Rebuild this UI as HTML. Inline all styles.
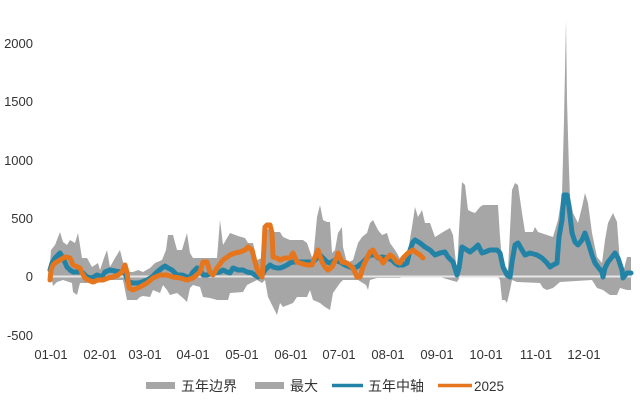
<!DOCTYPE html>
<html><head><meta charset="utf-8">
<style>
html,body{margin:0;padding:0;background:#fff;}
svg{display:block;}
text{font-family:"Liberation Sans","Noto Sans CJK SC",sans-serif;fill:#333;}
</style></head>
<body>
<svg width="640" height="402" viewBox="0 0 640 402" xmlns="http://www.w3.org/2000/svg">
<rect width="640" height="402" fill="#fff"/>
<!-- y labels -->
<g font-size="13" text-anchor="end">
<text x="33" y="48">2000</text>
<text x="33" y="106">1500</text>
<text x="33" y="165">1000</text>
<text x="33" y="223">500</text>
<text x="33" y="281">0</text>
<text x="33" y="340">-500</text>
</g>
<!-- gray area -->
<polygon fill="#a6a6a6" points="49,276 51,250 55,245 60,232 63,242 67,245 70,240 75,243 78,233 82,258 87,258 92,267 98,263 100,270 104,258 107,250 110,267 115,258 120,250 123,262 128,272 133,272 138,270 143,272 150,268 155,263 162,260 166,250 168,235 173,235 177,250 182,250 187,233 190,253 193,258 200,258 210,258 217,258 220,220 223,245 230,233 238,236 245,238 248,243 253,243 257,260 262,258 265,225 270,232 280,232 283,237 290,240 303,240 307,243 313,260 317,217 320,205 323,220 327,222 330,222 332,253 335,250 338,233 342,227 343,247 347,263 353,260 358,243 362,237 367,233 370,223 373,220 378,230 382,235 387,233 390,243 397,253 402,263 407,257 412,227 415,207 418,217 422,210 425,223 430,223 435,237 443,232 450,228 453,235 457,273 459,230 462,182 465,185 468,210 472,212 475,213 480,207 483,205 498,205 500,237 503,270 508,270 512,190 515,183 518,185 522,213 525,232 533,232 535,227 538,232 547,235 553,237 558,220 562,195 564,120 566,20 567,100 569,170 570,197 573,213 578,223 582,207 585,193 588,203 592,233 597,257 602,263 605,240 608,223 613,213 617,222 620,263 623,273 627,257 631,257 631,290 627,290 620,288 617,295 610,295 607,293 603,290 597,288 592,280 560,282 553,288 547,290 543,288 540,283 517,282 512,280 510,290 507,303 505,300 502,300 500,280 498,277 460,277 457,282 450,280 440,277 402,277 400,278 377,278 370,280 368,290 366,285 358,280 343,280 340,283 333,293 330,310 325,307 320,303 313,300 310,290 307,297 297,297 293,303 283,307 280,303 277,315 272,305 268,297 265,280 262,283 257,280 247,285 243,292 230,293 228,300 217,300 210,298 203,297 200,287 193,285 190,288 187,302 183,298 177,293 170,295 167,290 163,285 160,293 153,290 150,297 143,296 140,297 137,300 127,300 123,280 90,280 87,283 80,283 77,295 73,292 72,283 63,280 57,282 53,286 51,276"/>
<!-- zero line -->
<line x1="48" y1="276.5" x2="632" y2="276.5" stroke="#e6e6e6" stroke-width="2"/>
<!-- blue -->
<polyline fill="none" stroke="#2283a6" stroke-width="5" stroke-linejoin="round" stroke-linecap="round" points="50,270 52,263 55,258 60,253 63,258 67,267 70,270 73,272 82,272 87,277 92,278 97,275 102,277 105,272 110,270 120,272 125,273 128,282 133,283 138,283 142,282 147,280 152,277 157,272 162,268 165,266 168,268 172,270 177,275 182,275 187,277 190,277 193,272 197,268 200,270 203,275 207,275 213,273 220,272 223,270 227,272 230,273 233,268 238,270 243,270 247,272 252,273 255,275 258,277 262,275 265,270 270,265 273,267 277,268 280,268 283,267 287,265 290,263 293,262 300,262 313,262 317,258 320,255 323,258 327,262 330,263 335,260 340,262 345,265 350,267 353,268 357,267 362,263 367,258 370,255 375,255 378,258 382,257 387,258 392,260 395,263 398,265 403,265 407,263 410,250 413,242 415,240 420,243 425,247 430,250 435,255 440,253 445,252 448,257 453,262 457,275 459,268 462,247 467,250 470,252 475,248 478,245 482,253 485,252 490,250 497,250 500,253 503,267 507,275 510,277 512,262 515,245 518,243 522,250 525,255 530,253 537,255 542,258 547,263 550,267 553,265 557,263 559,237 562,220 564,195 567,195 569,207 572,233 575,242 578,245 582,240 585,233 588,242 592,255 595,263 598,267 602,272 603,277 605,268 608,262 612,257 615,253 618,258 622,270 623,278 627,273 631,273"/>
<!-- orange -->
<polyline fill="none" stroke="#e5761e" stroke-width="5" stroke-linejoin="round" stroke-linecap="round" points="50,280 51,270 53,265 55,263 60,260 65,257 70,258 73,265 80,268 82,273 85,278 88,280 93,282 98,280 103,280 108,278 113,277 118,275 122,272 125,265 127,272 129,288 133,290 140,287 147,283 153,278 160,275 167,275 173,277 180,278 187,280 193,278 200,272 203,262 207,262 210,272 213,275 217,268 223,260 230,255 235,253 240,252 245,250 248,247 252,250 255,262 258,272 262,277 263,265 265,227 267,225 270,225 272,233 273,257 277,258 280,260 285,258 290,258 293,253 297,262 300,263 307,265 312,265 315,257 318,250 322,262 325,267 328,270 332,267 337,257 338,253 342,262 347,263 353,268 357,277 360,277 363,267 367,258 370,252 373,250 377,257 380,258 383,263 387,258 390,255 393,257 397,262 400,263 403,258 408,253 413,250 417,253 420,255 423,258"/>
<!-- x labels -->
<g font-size="13" text-anchor="middle">
<text x="51" y="359">01-01</text>
<text x="100" y="359">02-01</text>
<text x="145" y="359">03-01</text>
<text x="193" y="359">04-01</text>
<text x="242" y="359">05-01</text>
<text x="291" y="359">06-01</text>
<text x="339" y="359">07-01</text>
<text x="388" y="359">08-01</text>
<text x="437" y="359">09-01</text>
<text x="486" y="359">10-01</text>
<text x="536" y="359">11-01</text>
<text x="584" y="359">12-01</text>
</g>
<!-- legend -->
<rect x="146" y="382" width="29" height="7" fill="#a6a6a6"/>
<text x="181" y="391" font-size="14">五年边界</text>
<rect x="255" y="382" width="29" height="7" fill="#a6a6a6"/>
<text x="290" y="391" font-size="14">最大</text>
<line x1="332" y1="385.5" x2="363" y2="385.5" stroke="#2283a6" stroke-width="3.5"/>
<text x="368" y="391" font-size="14">五年中轴</text>
<line x1="438" y1="385.5" x2="472" y2="385.5" stroke="#e5761e" stroke-width="3.5"/>
<text x="474" y="391" font-size="13.5">2025</text>
</svg>
</body></html>
